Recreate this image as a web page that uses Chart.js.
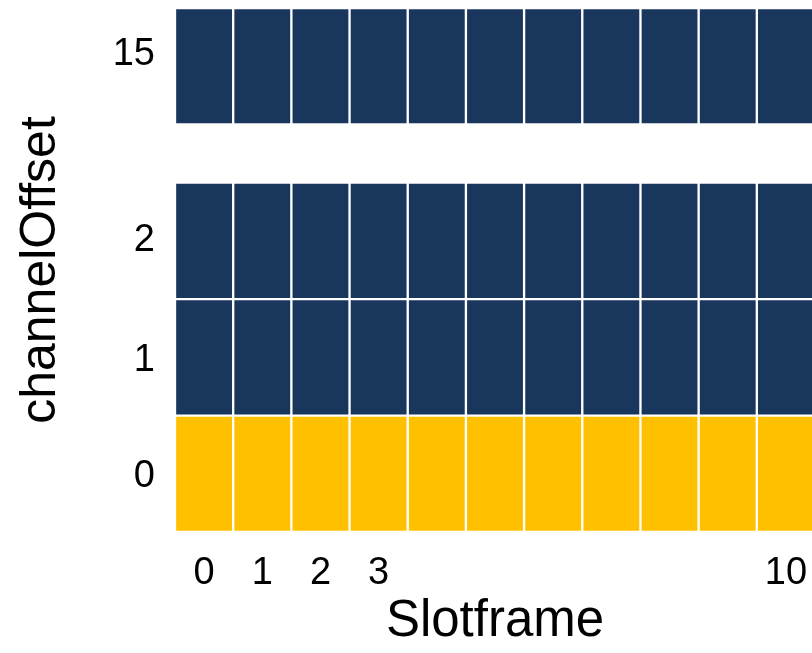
<!DOCTYPE html>
<html>
<head>
<meta charset="utf-8">
<script src="https://cdn.jsdelivr.net/npm/chart.js@4/dist/chart.umd.min.js"></script>
<style>
  html, body { margin: 0; padding: 0; background: #fff; overflow: hidden; }
</style>
</head>
<body>
<canvas id="myChart" width="815" height="653"></canvas>
<script>
// slots of the slotframe (x) and the channel offsets shown (y)
const slots = ["0", "1", "2", "3", "4", "5", "6", "7", "8", "9", "10"];
const slotTickLabels = ["0", "1", "2", "3", "", "", "", "", "", "", "10"];
const channelOffsets = ["0", "1", "2", "15"];
// each channel row on a compressed y axis (rows 3..14 are left out)
const rowLow = [0, 1, 2, 3.5];
const rowHigh = [1, 2, 3, 4.5];
const rowTicks = [0.48, 1.47, 2.5, 4.1];

const navy = "#19365d";
const gold = "#ffc000";
const font = "'Liberation Sans', Arial, sans-serif";

var datasets = channelOffsets.map((ch, i) => ({
  label: "channelOffset " + ch,
  data: slots.map(() => [rowLow[i], rowHigh[i]]),
  backgroundColor: i === 0 ? gold : navy,
  borderColor: "#ffffff",
  borderWidth: 1.5,
  borderSkipped: false,
  barPercentage: 1,
  categoryPercentage: 1,
  grouped: false,
}));

var ctx = document.getElementById("myChart").getContext("2d");
var chart = new Chart(ctx, {
  type: "bar",
  data: {
    labels: slots,
    datasets: datasets,
  },
  options: {
    responsive: false,
    animation: false,
    layout: { padding: { top: 8, right: 0, left: 0, bottom: 0 } },
    plugins: {
      legend: { display: false },
      tooltip: { enabled: false },
    },
    scales: {
      x: {
        type: "category",
        grid: { display: false, drawTicks: false },
        border: { display: false },
        afterFit: (scale) => {
          scale.height = 121;
          scale.paddingLeft = 0;
          scale.paddingRight = 0;
        },
        ticks: {
          autoSkip: false,
          maxRotation: 0,
          padding: 19,
          color: "#000",
          font: { family: font, size: 38 },
          callback: (v, i) => slotTickLabels[i],
        },
        title: {
          display: true,
          text: "Slotframe",
          color: "#000",
          font: { family: font, size: 51 },
          padding: { top: 0, bottom: 0 },
        },
      },
      y: {
        type: "linear",
        min: 0,
        max: 4.5,
        grid: { display: false, drawTicks: false },
        border: { display: false },
        afterFit: (scale) => {
          scale.width = 175;
          scale.paddingTop = 0;
          scale.paddingBottom = 0;
        },
        afterBuildTicks: (scale) => {
          scale.ticks = rowTicks.map((v) => ({ value: v }));
        },
        ticks: {
          padding: 20,
          color: "#000",
          font: { family: font, size: 38 },
          callback: (v) => channelOffsets[rowTicks.indexOf(v)],
        },
        title: {
          display: true,
          text: "channelOffset",
          color: "#000",
          font: { family: font, size: 50 },
          padding: { top: 11, bottom: 0 },
        },
      },
    },
  },
});
</script>
</body>
</html>
